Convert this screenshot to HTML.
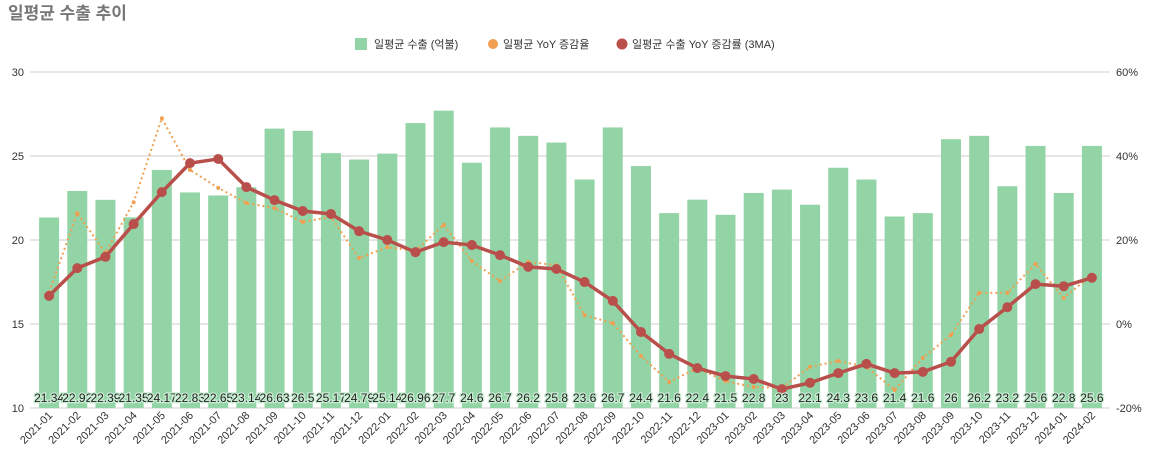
<!DOCTYPE html>
<html><head><meta charset="utf-8"><style>
body{margin:0;background:#fff;font-family:"Liberation Sans","Noto Sans CJK KR",sans-serif;}
svg text{font-family:"Liberation Sans","Noto Sans CJK KR",sans-serif;}
</style></head><body>
<svg id="c" width="1150" height="457">
<text x="8" y="19" font-size="17" font-weight="bold" fill="#777">일평균 수출 추이</text>
<g>
<rect x="355" y="38" width="12" height="12" fill="#93d4a6"/>
<text x="374" y="48" font-size="11" fill="#333">일평균 수출 (억불)</text>
<circle cx="493" cy="44" r="5" fill="#f0a050"/>
<text x="503" y="48" font-size="11" fill="#333">일평균 YoY 증감율</text>
<circle cx="622" cy="44" r="5.5" fill="#b94f4b"/>
<text x="632" y="48" font-size="11" fill="#333">일평균 수출 YoY 증감률 (3MA)</text>
</g>
<g id="g"></g>
</svg>
<script>
const categories=["2021-01","2021-02","2021-03","2021-04","2021-05","2021-06","2021-07","2021-08","2021-09","2021-10","2021-11","2021-12","2022-01","2022-02","2022-03","2022-04","2022-05","2022-06","2022-07","2022-08","2022-09","2022-10","2022-11","2022-12","2023-01","2023-02","2023-03","2023-04","2023-05","2023-06","2023-07","2023-08","2023-09","2023-10","2023-11","2023-12","2024-01","2024-02"];
const exportValues=[21.34,22.92,22.39,21.35,24.17,22.83,22.65,23.14,26.63,26.5,25.17,24.79,25.14,26.96,27.7,24.6,26.7,26.2,25.8,23.6,26.7,24.4,21.6,22.4,21.5,22.8,23,22.1,24.3,23.6,21.4,21.6,26,26.2,23.2,25.6,22.8,25.6];
const yoyValues=[7.6,26.4,16.9,29.0,49.0,36.7,32.4,28.8,27.6,24.3,25.5,15.7,18.3,17.4,23.6,15.0,10.2,14.8,14.0,2.1,0.2,-7.6,-13.8,-10.5,-13.6,-15.0,-15.2,-10.2,-8.8,-10.2,-15.7,-8.1,-2.6,7.4,7.4,14.3,6.2,11.7];
const ma3Values=[6.7,13.3,16.0,23.8,31.4,38.3,39.3,32.6,29.5,26.9,26.2,22.1,20.0,17.1,19.5,18.8,16.4,13.6,13.1,10.0,5.5,-1.9,-7.1,-10.5,-12.4,-13.1,-15.5,-14.0,-11.7,-9.5,-11.7,-11.4,-9.0,-1.2,4.0,9.5,9.0,11.0];
const leftTicks=[10,15,20,25,30];
const rightTicks=[-20,0,20,40,60];

const NS="http://www.w3.org/2000/svg";
const g=document.getElementById('g');
const L=35,R=1106,T=72,B=408;
const band=(R-L)/categories.length;
const xc=i=>L+band*(i+0.5);
const yL=v=>B-(v-10)/20*(B-T);
const yR=v=>B-(v+20)/80*(B-T);
function mk(tag,attrs){const e=document.createElementNS(NS,tag);for(const k in attrs)e.setAttribute(k,attrs[k]);g.appendChild(e);return e;}
leftTicks.forEach((t,i)=>{
 const y=yL(t);
 const ln=mk('line',{x1:30,x2:1110,y1:y,y2:y,stroke:'#ccc','stroke-width':1});
 
 
 const tx=mk('text',{x:24,y:y+4,'font-size':11,fill:'#333','text-anchor':'end'});tx.textContent=t;
 
 
});
rightTicks.forEach(t=>{
 const tx=mk('text',{x:1116,y:yR(t)+4,'font-size':11,fill:'#333'});tx.textContent=t+'%';
 
 
});
exportValues.forEach((v,i)=>{
 const r=mk('rect',{x:xc(i)-10,y:yL(v),width:20,height:B-yL(v),fill:'#93d4a6'});
 
 
});
const yoyPts=yoyValues.map((v,i)=>xc(i)+','+yR(v)).join(' ');
const pl1=mk('polyline',{points:yoyPts,fill:'none',stroke:'#f0a050','stroke-width':2,'stroke-dasharray':'2,3'});


yoyValues.forEach((v,i)=>{const c=mk('circle',{cx:xc(i),cy:yR(v),r:2,fill:'#f0a050'});
 
 });
const maPts=ma3Values.map((v,i)=>xc(i)+','+yR(v)).join(' ');
const pl2=mk('polyline',{points:maPts,fill:'none',stroke:'#b94f4b','stroke-width':3.5});


ma3Values.forEach((v,i)=>{const c=mk('circle',{cx:xc(i),cy:yR(v),r:5,fill:'#b94f4b'});
 
 });
exportValues.forEach((v,i)=>{
 const t=mk('text',{x:xc(i),y:402,'font-size':12,fill:'#222','text-anchor':'middle',stroke:'#c8ecd2','stroke-width':2.5,'paint-order':'stroke'});
 t.textContent=v;
 
 
});
categories.forEach((c,i)=>{
 const x=xc(i)+4,y=416;
 const t=mk('text',{x:x,y:y,'font-size':11,fill:'#333','text-anchor':'end',transform:`rotate(-45 ${x} ${y})`});
 t.textContent=c;
 
 
});
</script>
</body></html>
